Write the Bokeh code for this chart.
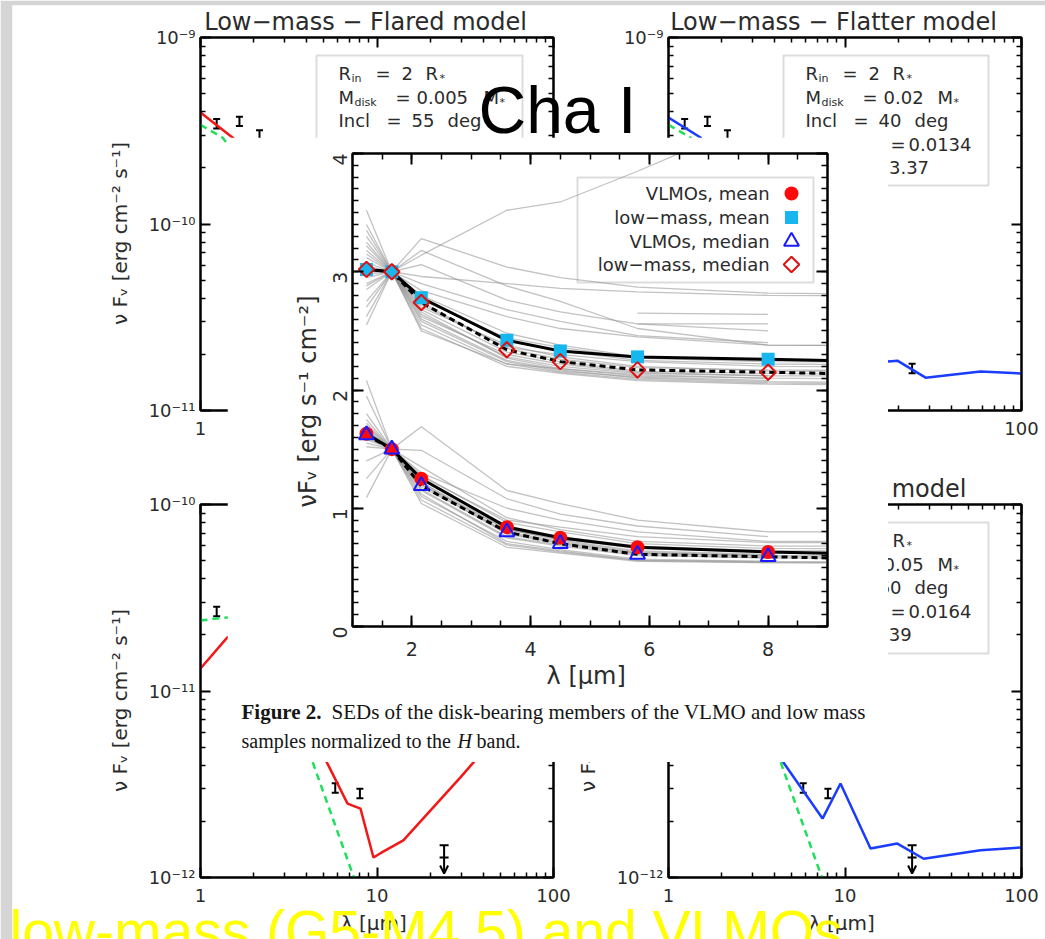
import math
from bokeh.plotting import figure
from bokeh.models import (Range1d, LinearAxis, LogAxis, SingleIntervalTicker, FixedTicker,
                          CustomJSTickFormatter, BoxAnnotation, Whisker, TeeHead, Arrow,
                          OpenHead, ColumnDataSource)
from bokeh.core.properties import value, field
from bokeh.core.validation import silence
from bokeh.core.validation.warnings import MISSING_RENDERERS
from bokeh.embed import file_html
from bokeh.resources import INLINE

silence(MISSING_RENDERERS, True)
NAN = float("nan")

# ---------------------------------------------------------------------------
# Central figure: SEDs normalised to the H band (low-mass shifted up by 1.5)
# ---------------------------------------------------------------------------
BANDS_UM = [1.235, 1.662, 2.159, 3.6, 4.5, 5.8, 8.0, 24.0]

VLMO_MEAN = [1.63, 1.50, 1.25, 0.84, 0.75, 0.67, 0.63, 0.47]
VLMO_MEDIAN = [1.62, 1.50, 1.19, 0.80, 0.70, 0.61, 0.59, 0.43]
LOWMASS_MEAN = [3.02, 3.00, 2.78, 2.42, 2.33, 2.28, 2.26, 2.10]
LOWMASS_MEDIAN = [3.02, 3.00, 2.74, 2.34, 2.24, 2.17, 2.15, 1.99]

LOWMASS_SEDS = [
    [3.52, 3.00, 2.62, 2.30, 2.22, 2.15, 2.12, NAN],
    [3.35, 3.00, 2.70, 2.38, 2.28, 2.20, 2.16, 2.12],
    [3.25, 3.00, 2.55, 2.22, 2.15, 2.09, 2.06, 2.00],
    [3.18, 3.00, 2.78, 2.42, 2.33, 2.25, 2.22, 2.18],
    [3.12, 3.00, 2.66, 2.27, 2.18, 2.12, 2.10, NAN],
    [3.08, 3.00, 2.52, 2.20, 2.14, 2.08, 2.05, 1.98],
    [3.05, 3.00, 3.28, 3.04, 2.95, 2.87, 2.82, 2.74],
    [3.02, 3.00, 2.74, 2.35, 2.26, 2.19, 2.17, 2.12],
    [2.98, 3.00, 3.14, 3.52, 3.59, 3.85, 4.32, NAN],
    [2.95, 3.00, 2.96, 2.90, 2.86, 2.83, 2.80, 2.78],
    [2.90, 3.00, 3.18, 2.88, 2.75, 2.52, 2.38, 2.34],
    [2.85, 3.00, 2.60, 2.25, 2.17, 2.10, 2.07, 2.02],
    [2.75, 3.00, 2.84, 2.62, 2.52, 2.45, 2.38, 2.35],
    [2.62, 3.00, 2.68, 2.32, 2.24, 2.16, 2.14, 2.08],
    [2.55, 3.00, 2.58, 2.24, 2.16, 2.11, 2.08, NAN],
    [3.30, 3.00, 3.06, 2.76, 2.66, 2.56, 2.50, NAN],
    [3.15, 3.00, 2.50, 2.22, 2.18, 2.13, 2.10, 2.04],
    [3.00, 3.00, 2.80, 2.48, 2.38, 2.28, 2.25, 2.22],
    [3.22, 3.00, 2.64, 2.28, 2.20, 2.14, 2.12, 2.10],
    [2.88, 3.00, 2.72, 2.36, 2.30, 2.24, 2.20, 2.16],
    [3.40, 3.00, 2.90, 2.68, 2.58, 2.46, 2.40, NAN],
    [2.70, 3.00, 2.76, 2.44, 2.36, 2.27, 2.24, 2.20],
    [NAN, NAN, NAN, NAN, NAN, 2.65, 2.64, NAN],
    [NAN, NAN, NAN, NAN, NAN, 2.56, 2.56, NAN],
]

VLMO_SEDS = [
    [2.08, 1.50, 1.20, 0.78, 0.70, 0.62, 0.60, NAN],
    [1.09, 1.50, 1.22, 0.82, 0.74, 0.66, 0.63, 0.60],
    [1.75, 1.50, 1.69, 1.15, 1.04, 0.90, 0.80, 0.79],
    [1.68, 1.50, 1.49, 1.08, 0.95, 0.85, 0.76, NAN],
    [1.62, 1.50, 1.30, 1.00, 0.90, 0.80, 0.72, 0.70],
    [1.58, 1.50, 1.10, 0.72, 0.65, 0.57, 0.55, 0.54],
    [1.80, 1.50, 1.15, 0.75, 0.68, 0.60, 0.58, NAN],
    [1.55, 1.50, 1.04, 0.67, 0.62, 0.55, 0.54, 0.53],
    [1.65, 1.50, 1.25, 0.85, 0.76, 0.68, 0.64, 0.62],
    [1.70, 1.50, 1.18, 0.80, 0.72, 0.63, 0.60, 0.58],
    [1.25, 1.50, 1.28, 0.88, 0.80, 0.70, 0.66, 0.65],
    [1.60, 1.50, 1.12, 0.70, 0.64, 0.56, 0.55, NAN],
    [1.72, 1.50, 1.35, 0.92, 0.82, 0.72, 0.68, 0.67],
    [1.52, 1.50, 1.22, 0.79, 0.71, 0.62, 0.59, 0.57],
    [1.95, 1.50, 1.16, 0.76, 0.69, 0.61, 0.58, 0.56],
    [1.66, 1.50, 1.27, 0.90, 0.84, 0.76, 0.71, 0.71],
    [1.63, 1.50, 1.07, 0.69, 0.63, 0.56, 0.54, 0.52],
    [1.40, 1.50, 1.20, 0.82, 0.73, 0.64, 0.61, NAN],
]

LEGEND_LABELS = ["VLMOs,  mean", "low\u2212mass,  mean", "VLMOs,  median", "low\u2212mass,  median"]

# ---------------------------------------------------------------------------
# Corner panels: disk model fits (lambda in um, nuFnu in erg cm^-2 s^-1)
# ---------------------------------------------------------------------------
LM_PHOT_UM = [1.0, 1.332, 2.2]
LM_PHOT = [3.4e-10, 2.91e-10, 1.58e-10]
LM_OBS_UM = [1.235, 1.662, 2.159, 24.0]
LM_OBS = [3.45e-10, 3.55e-10, 3.0e-10, 1.68e-11]

LM_FLARED_UM = [1.0, 1.518, 2.5]
LM_FLARED = [3.96e-10, 2.91e-10, 1.8e-10]

LM_FLATTER_UM = [1.0, 1.518, 3.0, 6.0, 12.0, 17.6, 19.8, 28.6, 58.6, 100.0]
LM_FLATTER = [3.72e-10, 2.91e-10, 1.3e-10, 5.5e-11, 2.6e-11, 1.83e-11, 1.85e-11,
              1.50e-11, 1.62e-11, 1.58e-11]

VLMO_PHOT_UM = [1.0, 1.42, 2.0, 3.0, 4.4, 7.4, 9.0]
VLMO_PHOT = [2.39e-11, 2.48e-11, 2.2e-11, 1.25e-11, 3.95e-12, 1.0e-12, 5.5e-13]
VLMO_OBS_UM = [1.235, 5.8, 8.0]
VLMO_OBS = [2.67e-11, 3.02e-12, 2.82e-12]
VLMO_LIMIT_UM = [24.0]
VLMO_LIMIT_HI = [1.49e-12]
VLMO_LIMIT_LO = [1.28e-12]
VLMO_LIMIT_TIP = [1.05e-12]

VLMO_FLARED_UM = [1.0, 1.42, 2.0, 5.24, 6.81, 8.06, 9.55, 10.47, 14.1, 29.7, 35.2, 60.0, 100.0]
VLMO_FLARED = [1.32e-11, 1.94e-11, 2.2e-11, 4.08e-12, 2.49e-12, 2.34e-12, 1.28e-12,
               1.35e-12, 1.58e-12, 3.44e-12, 4.14e-12, 8.0e-12, 1.3e-11]

VLMO_FLATTER_UM = [1.0, 2.0, 3.0, 4.48, 7.46, 9.43, 13.95, 19.8, 27.9, 58.6, 100.0]
VLMO_FLATTER = [1.4e-11, 1.8e-11, 8.0e-12, 4.14e-12, 2.07e-12, 3.19e-12, 1.43e-12,
                1.52e-12, 1.26e-12, 1.40e-12, 1.45e-12]

RED, GREEN, BLUE = "#f21818", "#1fe05c", "#1a3cff"
INK = "#2b2b2b"


def place(left, top, z):
    return {"position": "absolute", "left": f"{left}px", "top": f"{top}px", "z-index": str(z)}


def decade_ticker(lo_exp, hi_exp):
    majors = [10.0 ** e for e in range(lo_exp, hi_exp + 1)]
    minors = [m * 10.0 ** e for e in range(lo_exp, hi_exp) for m in range(2, 10)]
    return FixedTicker(ticks=majors, minor_ticks=minors)


def tick_style(ax, tick_in=10, minor_in=5):
    ax.axis_line_width = 2
    ax.axis_line_color = "black"
    ax.major_tick_in = tick_in
    ax.major_tick_out = 0
    ax.minor_tick_in = minor_in
    ax.minor_tick_out = 0
    ax.major_tick_line_width = 2
    ax.minor_tick_line_width = 1.5
    ax.major_tick_line_color = "black"
    ax.minor_tick_line_color = "black"


def hide_labels(ax):
    # mirror axis: ticks only
    ax.formatter = CustomJSTickFormatter(code="return '';")
    ax.major_label_text_font_size = "2px"
    ax.major_label_text_alpha = 0
    ax.major_label_standoff = 0


POW10 = """
const sup = {"-": "\u207b", "0": "\u2070", "1": "\u00b9", "2": "\u00b2", "3": "\u00b3",
             "4": "\u2074", "5": "\u2075", "6": "\u2076", "7": "\u2077", "8": "\u2078", "9": "\u2079"};
const e = Math.round(Math.log10(tick));
return "10" + String(e).split("").map((c) => sup[c]).join("");
"""
PLAIN = "return String(Math.round(tick));"

# ------------------------------------------------------------------ page
page = figure(width=1045, height=939, title=None, x_axis_location=None, y_axis_location=None,
              output_backend="svg", toolbar_location=None,
              min_border_left=12, min_border_top=5, min_border_right=0, min_border_bottom=0,
              border_fill_color="#d5d5d5", background_fill_color="white",
              outline_line_color=None, styles=place(0, 0, 0))
page.xgrid.visible = False
page.ygrid.visible = False


# ------------------------------------------------------------------ corner panels
def sed_panel(left, top, height, y_exp, title, xlabel, ylabel):
    p = figure(width=493, height=height, title=title,
               x_axis_type="log", y_axis_type="log",
               x_range=Range1d(1, 100), y_range=Range1d(10.0 ** y_exp[0], 10.0 ** y_exp[1]),
               output_backend="svg", toolbar_location=None,
               min_border_left=120, min_border_right=20, min_border_top=37,
               min_border_bottom=height - 410,
               background_fill_color="white", border_fill_alpha=0,
               outline_line_color="black", outline_line_width=2,
               styles=place(left, top, 1))
    p.xgrid.visible = False
    p.ygrid.visible = False
    if title:
        p.title.text_font = "DejaVu Sans"
        p.title.text_font_size = "24px"
        p.title.text_font_style = "normal"
        p.title.text_color = INK
        p.title.align = "center"
        p.title.standoff = 3

    bx, ly = p.below[0], p.left[0]
    bx.ticker = decade_ticker(0, 2)
    ly.ticker = decade_ticker(*y_exp)
    bx.formatter = CustomJSTickFormatter(code=PLAIN)
    ly.formatter = CustomJSTickFormatter(code=POW10)
    for ax in (bx, ly):
        tick_style(ax)
        ax.major_label_text_font = "DejaVu Sans"
        ax.major_label_text_font_size = "18px"
        ax.major_label_text_color = INK
        ax.axis_label_text_font = "DejaVu Sans"
        ax.axis_label_text_font_size = "20px"
        ax.axis_label_text_font_style = "normal"
        ax.axis_label_text_color = INK
    bx.major_label_standoff = 11
    ly.major_label_standoff = 5
    if xlabel:
        bx.axis_label = "\u03bb  [\u03bcm]"
        bx.axis_label_standoff = 6
    if ylabel:
        ly.axis_label = "\u03bd F\u1d65  [erg  cm\u207b\u00b2  s\u207b\u00b9]"
        ly.axis_label_standoff = 14

    top_ax = LogAxis(ticker=decade_ticker(0, 2))
    right_ax = LogAxis(ticker=decade_ticker(*y_exp))
    for ax in (top_ax, right_ax):
        tick_style(ax)
        hide_labels(ax)
    p.add_layout(top_ax, "above")
    p.add_layout(right_ax, "right")
    return p


def panel_conv(frame_left, frame_top, top_exp):
    def conv(px, py):
        return (10 ** ((px - frame_left) / 176.5), 10 ** (top_exp - (py - frame_top) / 186.5))
    return conv


def observations(p, xs, ys):
    src = ColumnDataSource(dict(x=xs, up=[v * 1.06 for v in ys], lo=[v / 1.06 for v in ys]))
    p.add_layout(Whisker(source=src, base="x", upper="up", lower="lo", line_width=2,
                         upper_head=TeeHead(size=7, line_width=2),
                         lower_head=TeeHead(size=7, line_width=2)))


def upper_limit(p):
    src = ColumnDataSource(dict(x=VLMO_LIMIT_UM, up=VLMO_LIMIT_HI, lo=VLMO_LIMIT_LO))
    p.add_layout(Whisker(source=src, base="x", upper="up", lower="lo", line_width=2,
                         upper_head=TeeHead(size=9, line_width=2),
                         lower_head=TeeHead(size=9, line_width=2)))
    p.add_layout(Arrow(x_start=VLMO_LIMIT_UM[0], y_start=VLMO_LIMIT_LO[0],
                       x_end=VLMO_LIMIT_UM[0], y_end=VLMO_LIMIT_TIP[0], line_width=2,
                       end=OpenHead(size=8, line_width=2)))


ROW_STEP = 23.5


def info_box(p, conv, box, x0, y0, rows):
    l, t, r, b = box
    xl, yt = conv(l, t)
    xr, yb = conv(r, b)
    p.add_layout(BoxAnnotation(left=xl, right=xr, top=yt, bottom=yb, fill_alpha=0,
                               line_color="#8a8a8a", line_width=2))
    data = dict(x=[], y=[], text=[], dx=[], dy=[], size=[])
    for i, pieces in enumerate(rows):
        ax, ay = conv(x0, y0 + ROW_STEP * i)
        for dx, txt, sub in pieces:
            data["x"].append(ax)
            data["y"].append(ay)
            data["text"].append(txt)
            data["dx"].append(dx)
            data["dy"].append(5 if sub else 0)
            data["size"].append("11px" if sub else "18px")
    p.text(x="x", y="y", text="text", x_offset="dx", y_offset="dy",
           text_font_size=field("size"), text_font=value("DejaVu Sans"),
           text_color=INK, text_baseline="middle", text_align="left",
           source=ColumnDataSource(data))


def rows_for(mdisk, m_dx, incl, hr, extra=None):
    rows = [
        [(0, "R", 0), (13, "in", 1), (37, "=", 0), (63, "2", 0), (87, "R", 0), (101, "*", 1)],
        [(0, "M", 0), (16, "disk", 1), (57, "=", 0), (78, mdisk, 0), (m_dx, "M", 0), (m_dx + 16, "*", 1)],
        [(0, "Incl", 0), (48, "=", 0), (73, incl, 0), (109, "deg", 0)],
        [(0, "H/R", 0), (85, "=", 0), (103, hr, 0)],
    ]
    if extra:
        rows.append([(0, "H", 0), (14, "100", 1), (48, "=", 0), (extra[1], extra[0], 0)])
    return rows


# top-left: low-mass, flared
tl = sed_panel(80, 0, 470, (-11, -9), "Low\u2212mass  \u2212  Flared  model", False, True)
tl.line(LM_FLARED_UM, LM_FLARED, line_color=RED, line_width=2.5)
tl.line(LM_PHOT_UM, LM_PHOT, line_color=GREEN, line_width=2.5, line_dash="7 5")
observations(tl, LM_OBS_UM, LM_OBS)
info_box(tl, panel_conv(200, 37, -9), (316, 55, 522, 185), 338, 73,
         rows_for("0.005", 145, "55", "0.0133"))

# top-right: low-mass, flatter
tr = sed_panel(548, 0, 470, (-11, -9), "Low\u2212mass  \u2212  Flatter  model", False, False)
tr.line(LM_FLATTER_UM, LM_FLATTER, line_color=BLUE, line_width=2.5)
tr.line(LM_PHOT_UM, LM_PHOT, line_color=GREEN, line_width=2.5, line_dash="7 5")
observations(tr, LM_OBS_UM, LM_OBS)
info_box(tr, panel_conv(668, 37, -9), (783, 55, 988, 185), 805, 73,
         rows_for("0.02", 132, "40", "0.0134", ("13.37", 72)))

# bottom-left: VLMO, flared
bl = sed_panel(80, 467, 472, (-12, -10), None, True, True)
bl.line(VLMO_FLARED_UM, VLMO_FLARED, line_color=RED, line_width=2.5)
bl.line(VLMO_PHOT_UM, VLMO_PHOT, line_color=GREEN, line_width=2.5, line_dash="7 5")
observations(bl, VLMO_OBS_UM, VLMO_OBS)
upper_limit(bl)

# bottom-right: VLMO, flatter
br = sed_panel(548, 467, 472, (-12, -10), "VLMO  \u2212  Flatter  model", True, True)
br.line(VLMO_FLATTER_UM, VLMO_FLATTER, line_color=BLUE, line_width=2.5)
br.line(VLMO_PHOT_UM, VLMO_PHOT, line_color=GREEN, line_width=2.5, line_dash="7 5")
observations(br, VLMO_OBS_UM, VLMO_OBS)
upper_limit(br)
info_box(br, panel_conv(668, 504, -10), (783, 522, 988, 653), 805, 540,
         rows_for("0.05", 132, "60", "0.0164", ("8.39", 66)))

# ------------------------------------------------------------------ central figure
cp = figure(width=661, height=625, title=None, x_range=Range1d(1, 9), y_range=Range1d(0, 4),
            output_backend="svg", toolbar_location=None,
            min_border_left=125, min_border_right=61, min_border_top=16, min_border_bottom=136,
            background_fill_color="white", border_fill_color="white",
            outline_line_color="black", outline_line_width=2, styles=place(227, 137, 2))
cp.xgrid.visible = False
cp.ygrid.visible = False

xa, ya = cp.below[0], cp.left[0]
xa.ticker = SingleIntervalTicker(interval=2, num_minor_ticks=4)
ya.ticker = SingleIntervalTicker(interval=1, num_minor_ticks=10)
for ax in (xa, ya):
    tick_style(ax, 11, 6)
    ax.major_label_text_font = "DejaVu Sans"
    ax.major_label_text_font_size = "19px"
    ax.major_label_text_color = INK
    ax.axis_label_text_font = "DejaVu Sans"
    ax.axis_label_text_font_style = "normal"
    ax.axis_label_text_color = INK
ya.major_label_orientation = math.pi / 2
ya.major_label_standoff = 13
ya.axis_label = "\u03bdF\u1d65  [erg  s\u207b\u00b9  cm\u207b\u00b2]"
ya.axis_label_text_font_size = "24px"
ya.axis_label_standoff = 1
xa.major_label_standoff = 15
xa.axis_label = "\u03bb  [\u03bcm]"
xa.axis_label_text_font_size = "24px"
xa.axis_label_standoff = 3

cp_top = LinearAxis(ticker=SingleIntervalTicker(interval=2, num_minor_ticks=4))
cp_right = LinearAxis(ticker=SingleIntervalTicker(interval=1, num_minor_ticks=10))
for ax in (cp_top, cp_right):
    tick_style(ax, 11, 6)
    hide_labels(ax)
cp.add_layout(cp_top, "above")
cp.add_layout(cp_right, "right")

for sed in LOWMASS_SEDS + VLMO_SEDS:
    cp.line(BANDS_UM, sed, line_color="#8f8f8f", line_alpha=0.55, line_width=1.3)

cp.line(BANDS_UM, LOWMASS_MEAN, line_color="black", line_width=3)
cp.line(BANDS_UM, LOWMASS_MEDIAN, line_color="black", line_width=3, line_dash="6 4")
cp.line(BANDS_UM, VLMO_MEAN, line_color="black", line_width=3)
cp.line(BANDS_UM, VLMO_MEDIAN, line_color="black", line_width=3, line_dash="6 4")

CYAN = "#16b6ee"
cp.scatter(BANDS_UM, VLMO_MEAN, marker="circle", size=14, fill_color="#ff0a0a", line_color=None)
cp.scatter(BANDS_UM, LOWMASS_MEAN, marker="square", size=13, fill_color=CYAN, line_color=None)
cp.scatter(BANDS_UM, VLMO_MEDIAN, marker="triangle", size=15, fill_alpha=0,
           line_color="#1a1aff", line_width=2)
cp.scatter(BANDS_UM, LOWMASS_MEDIAN, marker="square", angle=math.pi / 4, size=11, fill_alpha=0,
           line_color="#e01010", line_width=2)


# legend drawn with the text on the left of its symbol
def cx(px):
    return 1 + (px - 352) / 59.375


def cy(py):
    return (626 - py) / 118.25


cp.add_layout(BoxAnnotation(left=cx(577), right=cx(813), top=cy(177), bottom=cy(282),
                            fill_alpha=0, line_color="#8a8a8a", line_width=2))
leg_rows = [cy(v) for v in (193, 217, 241, 264)]
cp.text(x=[cx(775)] * 4, y=leg_rows, text=LEGEND_LABELS, text_align="right",
        text_baseline="middle", text_font=value("DejaVu Sans"), text_font_size="18px",
        text_color=INK)
mx = cx(791)
cp.scatter([mx], [leg_rows[0]], marker="circle", size=14, fill_color="#ff0a0a", line_color=None)
cp.scatter([mx], [leg_rows[1]], marker="square", size=13, fill_color=CYAN, line_color=None)
cp.scatter([mx], [leg_rows[2]], marker="triangle", size=15, fill_alpha=0,
           line_color="#1a1aff", line_width=2)
cp.scatter([mx], [leg_rows[3]], marker="square", angle=math.pi / 4, size=11, fill_alpha=0,
           line_color="#e01010", line_width=2)

# ------------------------------------------------------------------ texts on top
top = figure(width=1045, height=939, title=None, x_range=Range1d(0, 1045), y_range=Range1d(939, 0),
             x_axis_location=None, y_axis_location=None, output_backend="svg",
             toolbar_location=None, min_border=0, outline_line_color=None,
             background_fill_alpha=0, border_fill_alpha=0, styles=place(0, 0, 3))
top.xgrid.visible = False
top.ygrid.visible = False

top.text(x=[478], y=[109], text=["Cha I"], text_font=value("Liberation Sans"),
         text_font_size="66px", text_color="black", text_baseline="middle")

top.text(x=[241], y=[711], text=["Figure 2."], text_font=value("Liberation Serif"),
         text_font_size="21px", text_font_style="bold", text_color="#151515",
         text_baseline="middle")
top.text(x=[331], y=[711], text=["SEDs of the disk-bearing members of the VLMO and low mass"],
         text_font=value("Liberation Serif"), text_font_size="21px", text_color="#151515",
         text_baseline="middle")
top.text(x=[241], y=[740], text=["samples normalized to the"],
         text_font=value("Liberation Serif"), text_font_size="20px", text_color="#151515",
         text_baseline="middle")
top.text(x=[457], y=[740], text=["H"], text_font=value("Liberation Serif"),
         text_font_size="20px", text_font_style="italic", text_color="#151515",
         text_baseline="middle")
top.text(x=[476], y=[740], text=["band."], text_font=value("Liberation Serif"),
         text_font_size="20px", text_color="#151515", text_baseline="middle")

top.text(x=[9], y=[930], text=["low-mass (G5-M4.5) and VLMOs"],
         text_font=value("Liberation Sans"), text_font_size="57px", text_color="#ffff00",
         text_baseline="middle")

open("out.html", "w").write(file_html([page, tl, tr, bl, br, cp, top], INLINE, title="Cha I"))
